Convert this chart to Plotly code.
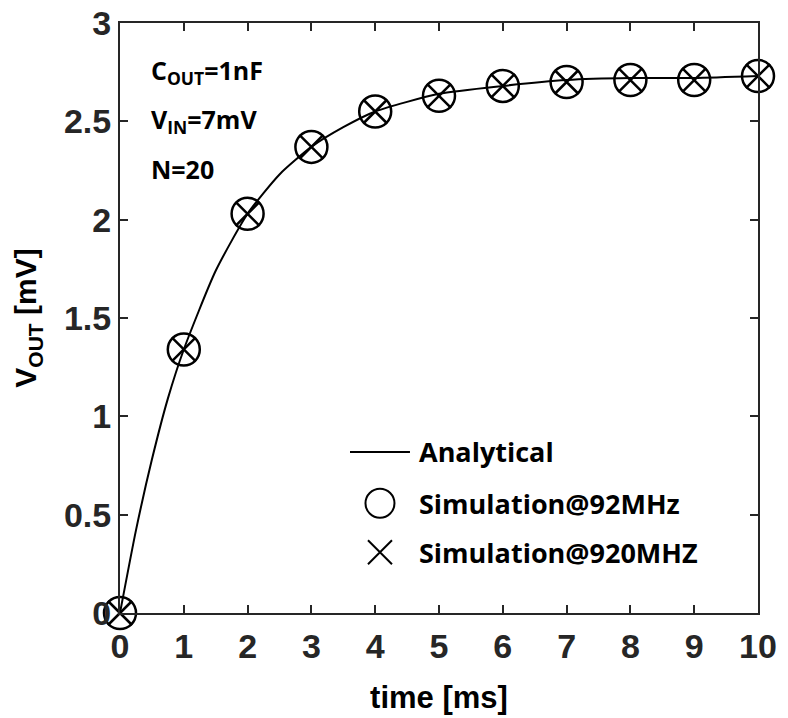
import plotly.graph_objects as go

# Analytical curve
t_analytic = [0, 0.25, 0.5, 0.75, 1, 1.5, 2, 2.5, 3, 3.5, 4, 5, 6, 7, 8, 9, 10]
v_analytic = [0, 0.42, 0.78, 1.09, 1.34, 1.74, 2.03, 2.23, 2.37, 2.47, 2.55, 2.64, 2.68, 2.71, 2.72, 2.72, 2.73]

# Simulation points
t_sim = [0, 1, 2, 3, 4, 5, 6, 7, 8, 9, 10]
v_sim92 = [0, 1.34, 2.03, 2.37, 2.55, 2.63, 2.68, 2.70, 2.71, 2.71, 2.73]
v_sim920 = [0, 1.34, 2.03, 2.37, 2.55, 2.63, 2.68, 2.70, 2.71, 2.71, 2.73]

x_ticks = list(range(0, 11))
y_ticks = [0, 0.5, 1, 1.5, 2, 2.5, 3]
y_ticklabels = ["0", "0.5", "1", "1.5", "2", "2.5", "3"]

legend_names = ["Analytical", "Simulation@92MHz", "Simulation@920MHZ"]
notes = ["C<sub>OUT</sub>=1nF", "V<sub>IN</sub>=7mV", "N=20"]

AX = "#262626"
TXTFONT = "Open Sans"

fig = go.Figure()
fig.add_trace(go.Scatter(x=t_analytic, y=v_analytic, mode="lines", line=dict(color="black", width=2, shape="spline", smoothing=0.6),
                         showlegend=False, cliponaxis=False))
fig.add_trace(go.Scatter(x=t_sim, y=v_sim92, mode="markers",
                         marker=dict(symbol="circle-open", size=32, color="black", line=dict(width=2.5, color="black")),
                         showlegend=False, cliponaxis=False))
fig.add_trace(go.Scatter(x=t_sim, y=v_sim920, mode="markers",
                         marker=dict(symbol="x-thin-open", size=24, color="black", line=dict(width=2.5, color="black")),
                         showlegend=False, cliponaxis=False))

# manual legend on an overlay axis (0..1 of plot area)
leg_y = [0.273, 0.186, 0.103]
leg_x0 = 0.4075
fig.add_trace(go.Scatter(x=[0.3605, 0.4545], y=[leg_y[0], leg_y[0]], mode="lines",
                         line=dict(color="black", width=2), xaxis="x2", yaxis="y2", showlegend=False))
fig.add_trace(go.Scatter(x=[leg_x0], y=[leg_y[1]], mode="markers",
                         marker=dict(symbol="circle-open", size=29, color="black", line=dict(width=2, color="black")),
                         xaxis="x2", yaxis="y2", showlegend=False))
fig.add_trace(go.Scatter(x=[leg_x0], y=[leg_y[2]], mode="markers",
                         marker=dict(symbol="x-thin-open", size=24, color="black", line=dict(width=2, color="black")),
                         xaxis="x2", yaxis="y2", showlegend=False))

annotations = []
for name, yy in zip(legend_names, leg_y):
    annotations.append(dict(x=0.465, y=yy, xref="x2", yref="y2", text="<b>%s</b>" % name,
                            showarrow=False, xanchor="left", yanchor="middle",
                            font=dict(family=TXTFONT, size=27, color="black")))
for note, yy in zip(notes, [0.918, 0.834, 0.752]):
    annotations.append(dict(x=0.045, y=yy, xref="paper", yref="paper", text="<b>%s</b>" % note,
                            showarrow=False, xanchor="left", yanchor="middle",
                            font=dict(family=TXTFONT, size=25, color="black")))

axis_common = dict(showline=True, linecolor=AX, linewidth=2, mirror="ticks", ticks="inside",
                   ticklen=8, tickwidth=2, tickcolor=AX, showgrid=False, zeroline=False, automargin=False,
                   tickfont=dict(family="Liberation Sans", size=34, color=AX, weight="bold"))

fig.update_layout(
    width=788, height=718,
    margin=dict(l=120, r=30, t=23, b=105),
    plot_bgcolor="white", paper_bgcolor="white",
    xaxis=dict(range=[0, 10], tickvals=x_ticks, ticktext=[str(v) for v in x_ticks], ticklabelstandoff=2,
               title=dict(text="time [ms]", font=dict(family="Liberation Sans", size=31, color="black", weight="bold"), standoff=23),
               **axis_common),
    yaxis=dict(range=[0, 3], tickvals=y_ticks, ticktext=y_ticklabels, ticklabelstandoff=0,
               title=dict(text="V<sub>OUT</sub> [mV]", font=dict(family="Liberation Sans", size=30, color="black", weight="bold"), standoff=18),
               **axis_common),
    xaxis2=dict(range=[0, 1], overlaying="x", visible=False, fixedrange=True),
    yaxis2=dict(range=[0, 1], overlaying="y", visible=False, fixedrange=True),
    annotations=annotations,
    showlegend=False,
)

fig.write_html("out.html")
